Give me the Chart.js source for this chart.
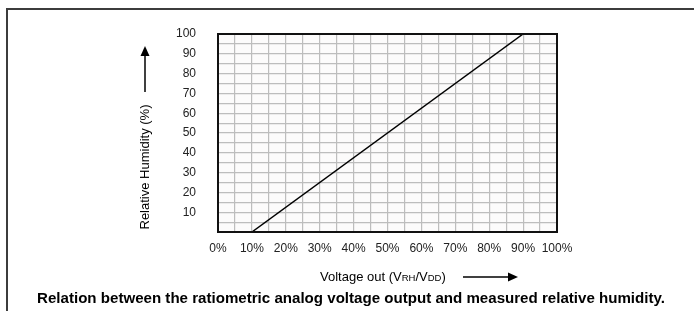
<!DOCTYPE html>
<html>
<head>
<meta charset="utf-8">
<script src="https://cdn.jsdelivr.net/npm/chart.js@4.4.1/dist/chart.umd.min.js"></script>
<style>
  html, body { margin: 0; padding: 0; background: #ffffff; }
  body { width: 694px; height: 311px; position: relative; overflow: hidden; font-family: "Liberation Sans", Arial, sans-serif; }
  #frame { position: absolute; left: 6px; top: 8px; width: 800px; height: 400px; border: 2px solid #3c3c3c; box-sizing: border-box; }
  #c { position: absolute; left: 0; top: 0; }
  .lbl { position: absolute; color: #000; white-space: nowrap; }
  #ytitle { font-size: 13px; left: 80px; top: 159px; width: 130px; text-align: center; line-height: 16px; transform-origin: 65px 8px; transform: rotate(-90deg); }
  #xtitle { font-size: 13px; left: 320px; top: 269px; }
  #xtitle .sc { font-size: 9.5px; }
  #caption { font-size: 15.1px; font-weight: bold; left: 351px; top: 289px; transform: translateX(-50%); color: #000; }
</style>
</head>
<body>
<div id="frame"></div>
<canvas id="c" width="694" height="311"></canvas>
<div class="lbl" id="ytitle">Relative Humidity (%)</div>
<div class="lbl" id="xtitle">Voltage out (V<span class="sc">RH</span>/V<span class="sc">DD</span>)</div>
<div class="lbl" id="caption">Relation between the ratiometric analog voltage output and measured relative humidity.</div>
<script>
// ---- data ----
const voltagePercent = [10, 90];      // Voltage out (VRH/VDD), %
const relativeHumidity = [0, 100];    // Relative Humidity, %
const xTickLabels = ['0%', '10%', '20%', '30%', '40%', '50%', '60%', '70%', '80%', '90%', '100%'];
const yTickLabels = ['', '10', '20', '30', '40', '50', '60', '70', '80', '90', '100'];

const points = voltagePercent.map((v, i) => ({ x: v, y: relativeHumidity[i] }));

const arrowsPlugin = {
  id: 'arrows',
  beforeDraw(chart) {
    const { ctx, chartArea } = chart;
    ctx.save();
    ctx.fillStyle = '#fcfbfb';
    ctx.fillRect(chartArea.left, chartArea.top, chartArea.right - chartArea.left, chartArea.bottom - chartArea.top);
    ctx.restore();
  },
  afterDraw(chart) {
    const { ctx, chartArea } = chart;
    ctx.save();
    // plot border all round
    ctx.strokeStyle = '#111';
    ctx.lineWidth = 2;
    ctx.strokeRect(chartArea.left, chartArea.top, chartArea.right - chartArea.left, chartArea.bottom - chartArea.top);
    ctx.strokeStyle = '#000';
    ctx.fillStyle = '#000';
    ctx.lineWidth = 1.5;
    // vertical arrow (y title)
    ctx.beginPath(); ctx.moveTo(145, 92); ctx.lineTo(145, 55); ctx.stroke();
    ctx.beginPath(); ctx.moveTo(145, 46); ctx.lineTo(149.5, 56); ctx.lineTo(140.5, 56); ctx.closePath(); ctx.fill();
    // horizontal arrow (x title)
    ctx.beginPath(); ctx.moveTo(463, 277); ctx.lineTo(509, 277); ctx.stroke();
    ctx.beginPath(); ctx.moveTo(518, 277); ctx.lineTo(508, 272.5); ctx.lineTo(508, 281.5); ctx.closePath(); ctx.fill();
    ctx.restore();
  }
};

new Chart(document.getElementById('c'), {
  type: 'scatter',
  data: {
    datasets: [{
      data: points,
      showLine: true,
      borderColor: '#000',
      borderWidth: 1.5,
      pointRadius: 0,
      fill: false
    }]
  },
  options: {
    responsive: false,
    animation: false,
    devicePixelRatio: 1,
    layout: { padding: { left: 0, right: 137, top: 34, bottom: 0 } },
    plugins: { legend: { display: false }, tooltip: { enabled: false } },
    scales: {
      x: {
        type: 'linear', min: 0, max: 100,
        afterFit(s) { s.height = 79; },
        border: { display: true, color: '#111', width: 2 },
        grid: { color: '#bdbdbd', lineWidth: 1.2, drawTicks: false },
        ticks: {
          stepSize: 5, padding: 9, maxRotation: 0, autoSkip: false,
          color: '#222', font: { family: 'Liberation Sans, Arial', size: 12 },
          callback: (v) => (v % 10 === 0 ? xTickLabels[v / 10] : '')
        }
      },
      y: {
        type: 'linear', min: 0, max: 100,
        afterFit(s) { s.width = 218; },
        border: { display: true, color: '#111', width: 2 },
        grid: { color: '#bdbdbd', lineWidth: 1.2, drawTicks: false },
        ticks: {
          stepSize: 5, padding: 22, autoSkip: false,
          color: '#222', font: { family: 'Liberation Sans, Arial', size: 12 },
          callback: (v) => (v % 10 === 0 ? yTickLabels[v / 10] : '')
        }
      }
    }
  },
  plugins: [arrowsPlugin]
});
</script>
</body>
</html>
